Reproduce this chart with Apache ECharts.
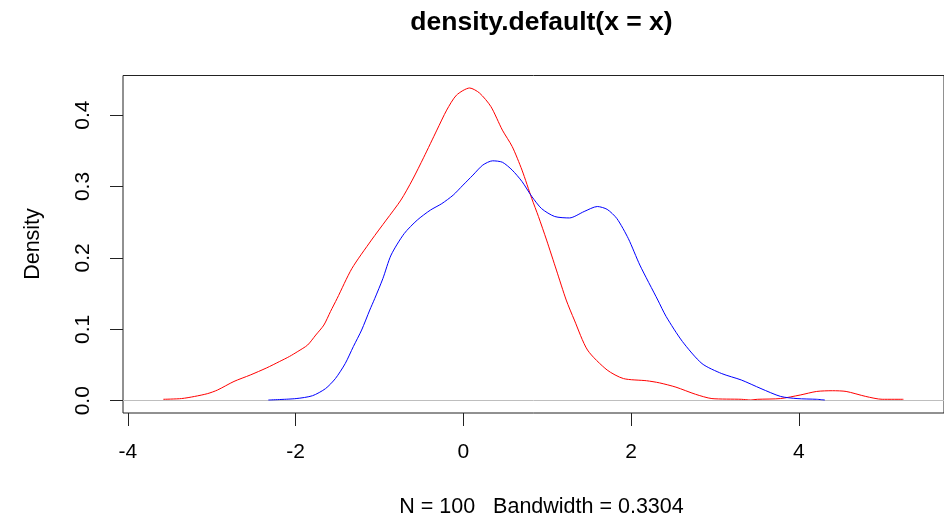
<!DOCTYPE html>
<html>
<head>
<meta charset="utf-8">
<script src="https://cdn.jsdelivr.net/npm/echarts@6/dist/echarts.min.js"></script>
<style>html,body{margin:0;padding:0;background:#fff}#c{width:944px;height:518px}</style>
</head>
<body>
<div id="c"></div>
<script>
// Red density curve (first plotted)
const redX = [-3.577,-3.361,-3.204,-3.048,-2.931,-2.735,-2.541,-2.345,-2.190,-2.073,-1.974,-1.857,-1.760,-1.663,-1.584,-1.506,-1.330,-1.096,-0.920,-0.745,-0.609,-0.472,-0.316,-0.199,-0.082,0.075,0.192,0.328,0.465,0.582,0.699,0.816,0.895,0.992,1.109,1.226,1.323,1.480,1.714,1.909,2.183,2.338,2.534,2.768,2.963,3.314,3.420,3.509,3.779,4.016,4.212,4.400,4.563,4.797,4.993,5.246];
const redY = [0.002,0.003,0.006,0.010,0.015,0.027,0.036,0.046,0.055,0.062,0.069,0.078,0.092,0.106,0.125,0.143,0.185,0.225,0.253,0.281,0.309,0.341,0.379,0.407,0.428,0.438,0.431,0.412,0.379,0.356,0.323,0.283,0.258,0.225,0.183,0.141,0.113,0.071,0.043,0.031,0.028,0.025,0.019,0.009,0.003,0.002,0.001,0.002,0.003,0.008,0.013,0.014,0.013,0.006,0.002,0.002];
// Blue density curve (added with lines())
const blueX = [-2.325,-1.994,-1.799,-1.643,-1.526,-1.409,-1.311,-1.213,-1.116,-1.057,-0.960,-0.862,-0.706,-0.550,-0.393,-0.258,-0.121,-0.004,0.114,0.231,0.348,0.465,0.582,0.699,0.816,0.933,1.089,1.265,1.440,1.597,1.714,1.831,1.967,2.104,2.318,2.417,2.611,2.845,3.080,3.314,3.548,3.782,3.978,4.212,4.309];
const blueY = [0.001,0.003,0.007,0.017,0.031,0.052,0.076,0.099,0.127,0.143,0.171,0.204,0.234,0.253,0.267,0.276,0.288,0.302,0.316,0.330,0.336,0.334,0.323,0.307,0.286,0.269,0.258,0.256,0.265,0.272,0.268,0.255,0.227,0.190,0.141,0.118,0.083,0.052,0.038,0.029,0.017,0.006,0.003,0.002,0.001];
const xTicks = [-4,-2,0,2,4];
const yTicks = [0,0.1,0.2,0.3,0.4];
const yTickLabels = ['0.0','0.1','0.2','0.3','0.4'];
const titleText = 'density.default(x = x)';
const subText = 'N = 100   Bandwidth = 0.3304';
const yName = 'Density';

const FONT = '"Liberation Sans", Arial, sans-serif';
const chart = echarts.init(document.getElementById('c'), null, {renderer:'canvas'});
const zip = (xs, ys) => xs.map((x,i)=>[x, ys[i]]);
chart.setOption({
  animation:false,
  backgroundColor:'#fff',
  grid:{left:123, right:-16, top:75.5, bottom:105, show:true, borderColor:'#222', borderWidth:1, containLabel:false},
  xAxis:{type:'value', min:-4.058, max:5.73,
    axisLine:{show:false, onZero:false},
    splitLine:{show:false},
    axisTick:{show:true, customValues:xTicks, length:13, inside:false, lineStyle:{color:'#222', width:1}},
    axisLabel:{customValues:xTicks, margin:29, fontFamily:FONT, fontSize:21, color:'#000',
      formatter:v=>String(v)}
  },
  yAxis:{type:'value', min:-0.0172, max:0.4555,
    axisLine:{show:false, onZero:false},
    splitLine:{show:false},
    axisTick:{show:true, customValues:yTicks, length:13, lineStyle:{color:'#222', width:1}},
    axisLabel:{customValues:yTicks, rotate:90, margin:29, fontFamily:FONT, fontSize:21, color:'#000',
      formatter:v=>yTickLabels[yTicks.findIndex(t=>Math.abs(t-v)<1e-9)] || ''}
  },
  series:[
    {type:'line', name:'red', data:zip(redX, redY), showSymbol:false, smooth:0.25, z:2,
     lineStyle:{color:'#ff0000', width:1}, itemStyle:{color:'#ff0000'},
     markLine:{silent:true, symbol:['none','none'], label:{show:false}, z:3,
       lineStyle:{color:'#bebebe', width:1, type:'solid'}, data:[{yAxis:0}]}},
    {type:'line', name:'blue', data:zip(blueX, blueY), showSymbol:false, smooth:0.25, z:4,
     lineStyle:{color:'#0000ff', width:1}, itemStyle:{color:'#0000ff'}}
  ],
  graphic:[
    {type:'text', x:541.5, y:23, style:{text:titleText, font:'bold 26.5px '+FONT, fill:'#000', textAlign:'center', textVerticalAlign:'middle'}},
    {type:'text', x:541.5, y:507, style:{text:subText, font:'21.5px '+FONT, fill:'#000', textAlign:'center', textVerticalAlign:'middle'}},
    {type:'text', x:33, y:244, rotation:Math.PI/2, style:{text:yName, font:'21.5px '+FONT, fill:'#000', textAlign:'center', textVerticalAlign:'middle'}}
  ]
});
</script>
</body>
</html>
